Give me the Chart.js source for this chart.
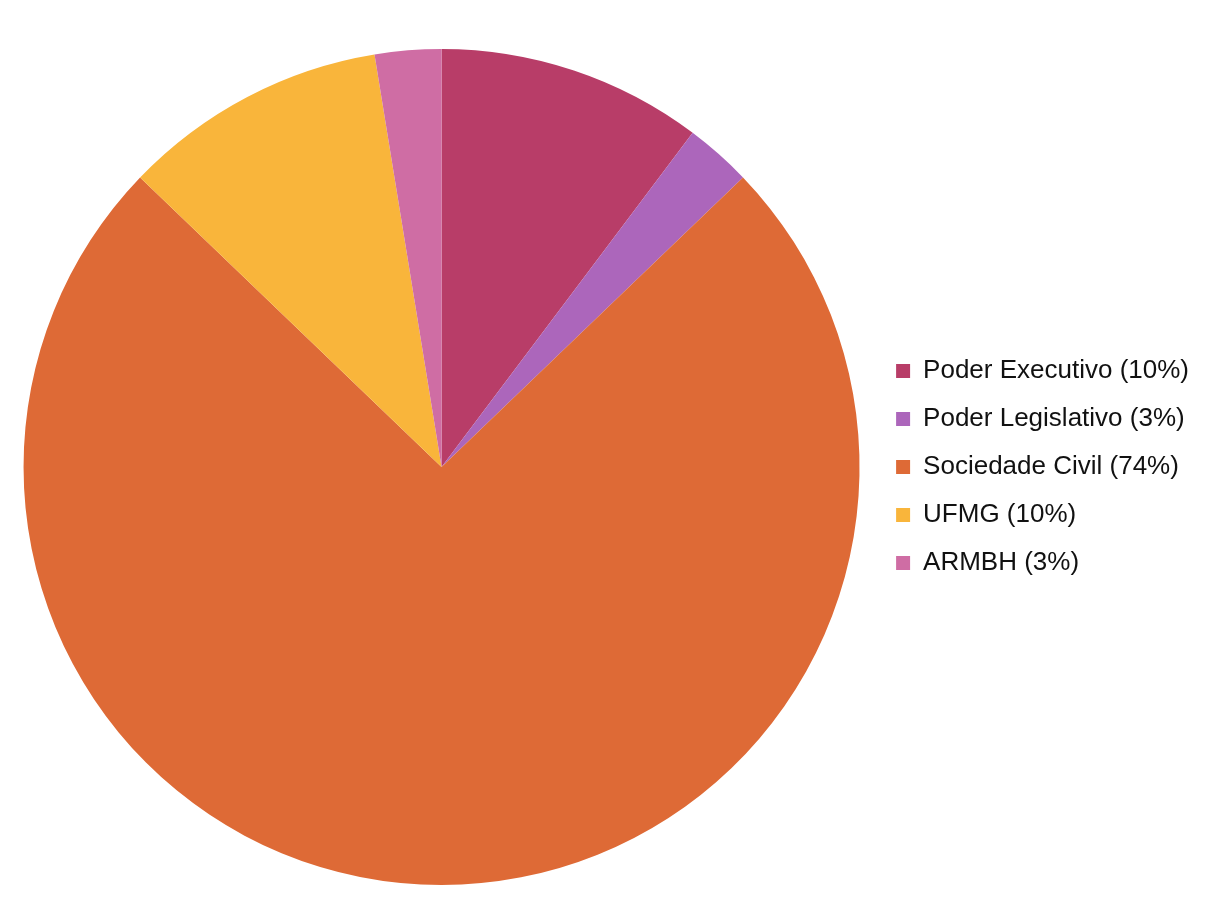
<!DOCTYPE html>
<html>
<head>
<meta charset="utf-8">
<script src="https://cdn.jsdelivr.net/npm/chart.js@4"></script>
<style>
  html, body { margin: 0; padding: 0; background: #fff; }
  #wrap { width: 1205px; height: 921px; }
</style>
</head>
<body>
<div id="wrap"><canvas id="pieChart" width="1205" height="921"></canvas></div>
<script>
// data (39 members in total)
const categories = ["Poder Executivo", "Poder Legislativo", "Sociedade Civil", "UFMG", "ARMBH"];
const counts = [4, 1, 29, 4, 1];
const sliceColors = ["#B83D68", "#AC66BB", "#DE6A36", "#F9B53B", "#CF6DA4"];

const total = counts.reduce((a, b) => a + b, 0);

// legend text with the rounded share, like "UFMG (10%)"
const legendTexts = categories.map((c, i) => `${c} (${Math.round(counts[i] / total * 100)}%)`);

const ctx = document.getElementById("pieChart");

new Chart(ctx, {
  type: "pie",
  data: {
    labels: legendTexts,
    datasets: [{
      data: counts,
      backgroundColor: sliceColors,
      borderWidth: 0
    }]
  },
  options: {
    responsive: false,
    animation: false,
    layout: { padding: { top: 49, bottom: 36, left: 9, right: 6 } },
    plugins: {
      tooltip: { enabled: false },
      legend: {
        position: "right",
        labels: {
          boxWidth: 14,
          boxHeight: 14,
          padding: 22,
          color: "#111",
          font: { family: "Liberation Sans", size: 26 }
        }
      }
    }
  }
});
</script>
</body>
</html>
